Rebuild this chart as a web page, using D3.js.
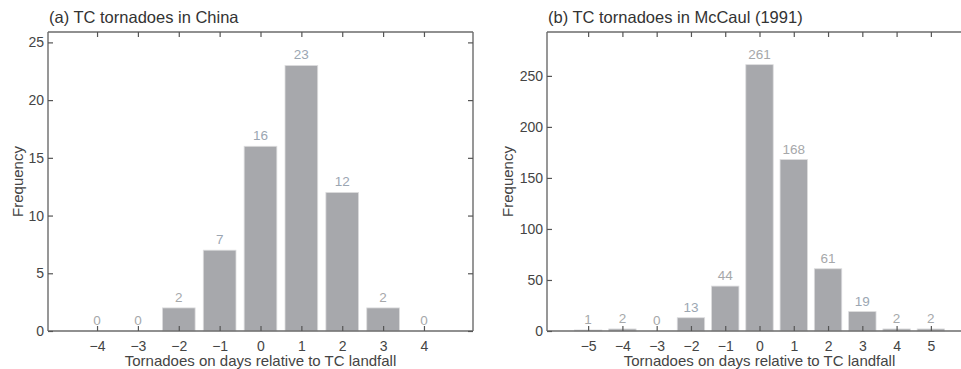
<!DOCTYPE html>
<html>
<head>
<meta charset="utf-8">
<script src="https://cdn.jsdelivr.net/npm/d3@7"></script>
<style>
  body { margin: 0; background: #fff; }
  svg { display: block; font-family: "Liberation Sans", Arial, sans-serif; }
</style>
</head>
<body>
<svg id="chart" width="961" height="369"></svg>
<script>
// Data
const daysA = [-4, -3, -2, -1, 0, 1, 2, 3, 4];
const freqA = [0, 0, 2, 7, 16, 23, 12, 2, 0];
const yTicksA = [0, 5, 10, 15, 20, 25];
const titleA = "(a) TC tornadoes in China";

const daysB = [-5, -4, -3, -2, -1, 0, 1, 2, 3, 4, 5];
const freqB = [1, 2, 0, 13, 44, 261, 168, 61, 19, 2, 2];
const yTicksB = [0, 50, 100, 150, 200, 250];
const titleB = "(b) TC tornadoes in McCaul (1991)";

const xLabel = "Tornadoes on days relative to TC landfall";
const yLabel = "Frequency";

const svg = d3.select("#chart");
const axisColor = "#6b6b6b";
const textColor = "#444";

function panel(opts) {
  const { left, right, top, bottom, xDomain, yDomain, days, freq, yTicks, title } = opts;
  const x = d3.scaleLinear().domain(xDomain).range([left, right]);
  const y = d3.scaleLinear().domain(yDomain).range([bottom, top]);
  const g = svg.append("g");
  const bw = (x(1) - x(0)) * 0.8;

  // bars
  g.selectAll("rect.bar").data(days.map((d, i) => ({ d, v: freq[i] })).filter(o => o.v > 0))
    .enter().append("rect")
    .attr("x", o => x(o.d) - bw / 2)
    .attr("width", bw)
    .attr("y", o => y(o.v))
    .attr("height", o => y(0) - y(o.v))
    .attr("fill", "#a7a8ac")
    .attr("stroke", "#dcdcde")
    .attr("stroke-width", 0.8);

  // value labels
  g.selectAll("text.val").data(days.map((d, i) => ({ d, v: freq[i] })))
    .enter().append("text")
    .attr("x", o => x(o.d))
    .attr("y", o => y(o.v) - 6)
    .attr("text-anchor", "middle")
    .attr("font-size", 13.5)
    .attr("fill", o => o.v >= 5 && o.v < 30 ? "#9ba6b2" : "#a6a8aa")
    .text(o => o.v);

  // axes (ticks inward)
  const tickLen = 5;
  const xb = d3.axisBottom(x).tickValues(days).tickSize(-tickLen).tickPadding(10)
    .tickFormat(d => d < 0 ? "\u2212" + Math.abs(d) : d);
  const xt = d3.axisTop(x).tickValues(days).tickSize(-tickLen).tickFormat("");
  const yl = d3.axisLeft(y).tickValues(yTicks).tickSize(-tickLen).tickPadding(4);
  const yr = d3.axisRight(y).tickValues(yTicks).tickSize(-tickLen).tickFormat("");

  const gb = g.append("g").attr("transform", `translate(0,${bottom})`).call(xb);
  const gt = g.append("g").attr("transform", `translate(0,${top})`).call(xt);
  const gl = g.append("g").attr("transform", `translate(${left},0)`).call(yl);
  const gr = g.append("g").attr("transform", `translate(${right},0)`).call(yr);
  [gb, gt, gl, gr].forEach(a => {
    a.select(".domain").attr("stroke", axisColor).attr("stroke-width", 1.4);
    a.selectAll(".tick line").attr("stroke", "#555").attr("stroke-width", 1.2);
    a.selectAll(".tick text").attr("fill", textColor).attr("font-size", 14)
      .attr("font-family", "Liberation Sans, Arial, sans-serif");
  });
  gb.select(".domain").attr("d", `M${left},0H${right}`);
  gt.select(".domain").attr("d", `M${left},0H${right}`);
  gl.select(".domain").attr("d", `M0,${top}V${bottom}`);
  gr.select(".domain").attr("d", `M0,${top}V${bottom}`);

  // title
  g.append("text").attr("x", left + 1).attr("y", top - 9)
    .attr("font-size", 16.5).attr("fill", "#333").text(title);

  // x label
  g.append("text").attr("x", x(0)).attr("y", bottom + 35)
    .attr("text-anchor", "middle").attr("font-size", 15).attr("fill", textColor).text(xLabel);

  // y label
  g.append("text")
    .attr("transform", `translate(${left - (opts.ylabOff)},${(top + bottom) / 2}) rotate(-90)`)
    .attr("text-anchor", "middle").attr("font-size", 15).attr("fill", textColor).text(yLabel);
}

panel({
  left: 48, right: 473, top: 32, bottom: 331,
  xDomain: [-5.2, 5.2], yDomain: [0, 25.9],
  days: daysA, freq: freqA, yTicks: yTicksA, title: titleA, ylabOff: 25
});
panel({
  left: 547, right: 972, top: 32, bottom: 331,
  xDomain: [-6.2, 6.2], yDomain: [0, 293],
  days: daysB, freq: freqB, yTicks: yTicksB, title: titleB, ylabOff: 34
});
</script>
</body>
</html>
